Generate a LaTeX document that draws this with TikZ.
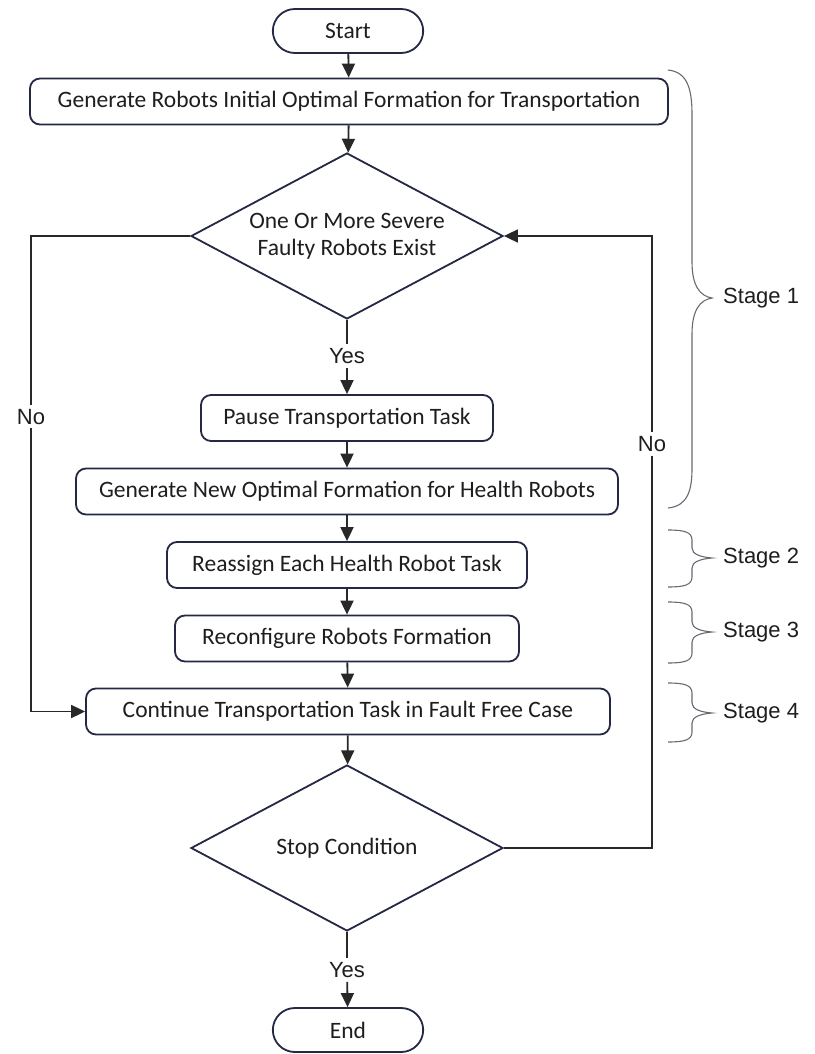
\documentclass[tikz,border=0pt]{standalone}
\usepackage{fontspec}
\setmainfont{Carlito}
\newfontfamily\arialfont{Liberation Sans}
\usetikzlibrary{positioning, shapes.geometric, shapes.misc, arrows.meta}
\definecolor{boxcol}{RGB}{36,40,68}
\definecolor{lincol}{RGB}{40,40,40}
\definecolor{txtcol}{RGB}{30,30,30}
\definecolor{brccol}{RGB}{105,105,115}

\begin{document}
\begin{tikzpicture}[x=1pt, y=-1pt,
    block/.style={draw=boxcol, line width=1.8pt, rounded corners=10pt, minimum height=46pt, text=txtcol, font=\fontsize{23.5}{27}\selectfont},
    term/.style={draw=boxcol, line width=1.8pt, rounded rectangle, minimum width=157pt, minimum height=44pt, text=txtcol, font=\fontsize{23.5}{27}\selectfont},
    cond/.style={draw=boxcol, line width=1.8pt, diamond, shape aspect=1.88, inner sep=0pt, minimum width=312pt, minimum height=166pt, align=center, text=txtcol, font=\fontsize{23.5}{27}\selectfont},
    lbl/.style={fill=white, inner sep=4pt, text=txtcol, font=\arialfont\fontsize{22}{26}\selectfont},
    line/.style={draw=lincol, line width=1.8pt},
    arr/.style={line, -{Triangle[length=14pt, width=13pt]}},
    brc/.style={draw=brccol, line width=1.1pt},
    stg/.style={anchor=west, inner sep=0pt, text=txtcol, font=\arialfont\fontsize{22}{26}\selectfont}]
  \useasboundingbox[fill=white] (0,0) rectangle (814,1054);
  % main flow
  \node[term] (start) at (348,31) {Start};
  \node[block, minimum width=638pt] (gen) at (349,101.5) {Generate Robots Initial Optimal Formation for Transportation};
  \node[cond] (fault) at (347,236) {One Or More Severe\\Faulty Robots Exist};
  \node[lbl] (yes1) at (347,356) {Yes};
  \node[block, minimum width=292pt] (pause) at (347,418) {Pause Transportation Task};
  \node[block, minimum width=542pt] (newf) at (347,491.5) {Generate New Optimal Formation for Health Robots};
  \node[block, minimum width=360pt] (assign) at (347,565) {Reassign Each Health Robot Task};
  \node[block, minimum width=344pt] (reconf) at (347,638.5) {Reconfigure Robots Formation};
  \node[block, minimum width=524pt] (cont) at (348,711.5) {Continue Transportation Task in Fault Free Case};
  \node[cond] (stop) at (347,848) {Stop Condition};
  \node[lbl] (yes2) at (347,970) {Yes};
  \node[term] (fin) at (348,1030) {End};
  \draw[arr] (start) -- (gen);
  \draw[arr] (gen) -- (fault);
  \draw[line] (fault) -- (yes1);
  \draw[arr] (yes1) -- (pause);
  \draw[arr] (pause) -- (newf);
  \draw[arr] (newf) -- (assign);
  \draw[arr] (assign) -- (reconf);
  \draw[arr] (reconf) -- (cont);
  \draw[arr] (cont) -- (stop);
  \draw[line] (stop) -- (yes2);
  \draw[arr] (yes2) -- (fin);
  % no branches
  \coordinate (lc) at (31,711.5);
  \coordinate (rc) at (652,236);
  \draw[arr] (fault.west) -| node[lbl, pos=0.69] (no1) {No} (lc) -- (cont.west);
  \draw[arr] (stop.east) -| node[lbl, pos=0.83] (no2) {No} (rc) -- (fault.east);
  % stages
  \draw[brc] (668,70) .. controls (688,72) and (692,90) .. (692,115) -- (692,262)
    .. controls (692,286) and (700,296) .. (712,298) .. controls (700,300) and (692,310) .. (692,334)
    -- (692,468) .. controls (692,490) and (688,506) .. (668,508);
  \draw[brc] (668,530) .. controls (684,530) and (692,532) .. (692,540) -- (692,548)
    .. controls (692,554) and (700,557) .. (712,558) .. controls (700,559) and (692,562) .. (692,568)
    -- (692,577) .. controls (692,585) and (684,587) .. (668,587);
  \draw[brc] (668,602) .. controls (684,602) and (692,604) .. (692,612) -- (692,622)
    .. controls (692,628) and (700,631) .. (712,632) .. controls (700,633) and (692,636) .. (692,642)
    -- (692,653) .. controls (692,661) and (684,663) .. (668,663);
  \draw[brc] (668,683) .. controls (684,683) and (692,685) .. (692,693) -- (692,703)
    .. controls (692,709) and (700,712) .. (712,713) .. controls (700,714) and (692,717) .. (692,723)
    -- (692,732) .. controls (692,740) and (684,742) .. (668,742);
  \node[stg] (s1) at (723,298) {Stage 1};
  \node[stg] (s2) at (723,558) {Stage 2};
  \node[stg] (s3) at (723,632) {Stage 3};
  \node[stg] (s4) at (723,713) {Stage 4};
\end{tikzpicture}
\end{document}
